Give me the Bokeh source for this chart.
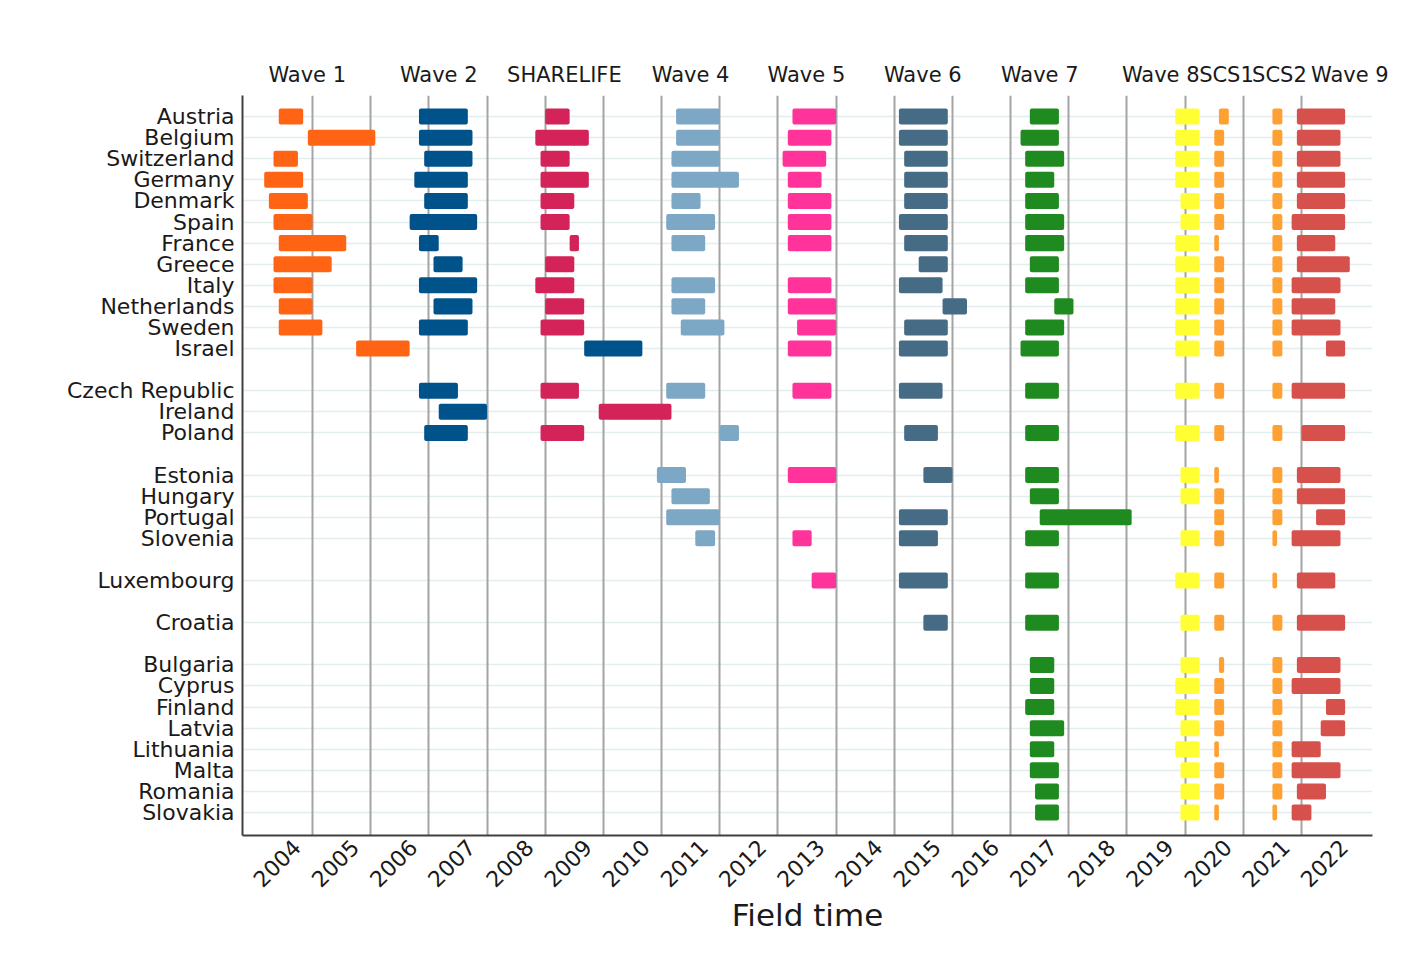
import math
from bokeh.plotting import figure
from bokeh.models import Range1d, FixedTicker, LinearAxis, ColumnDataSource
from bokeh.embed import file_html
from bokeh.resources import INLINE

N = None

COUNTRIES = ["Austria", "Belgium", "Switzerland", "Germany", "Denmark", "Spain",
             "France", "Greece", "Italy", "Netherlands", "Sweden", "Israel",
             "Czech Republic", "Ireland", "Poland",
             "Estonia", "Hungary", "Portugal", "Slovenia",
             "Luxembourg",
             "Croatia",
             "Bulgaria", "Cyprus", "Finland", "Latvia", "Lithuania", "Malta",
             "Romania", "Slovakia"]
GROUP_SIZES = [12, 3, 4, 1, 1, 8]

YEARS = list(range(2004, 2023))
GRID_YEARS = list(range(2004, 2022))

WAVE_NAMES = ["Wave 1", "Wave 2", "SHARELIFE", "Wave 4", "Wave 5", "Wave 6",
              "Wave 7", "Wave 8", "SCS1", "SCS2", "Wave 9"]
WAVE_LABEL_AT = [2003.91, 2006.17, 2008.33, 2010.5, 2012.49, 2014.49,
                 2016.5, 2018.58, 2019.71, 2020.62, 2021.83]
WAVE_COLORS = ["#FF6414", "#00538A", "#D32359", "#7CA7C5", "#FF3399", "#466C85",
               "#1F8A1F", "#FFFF33", "#FFA033", "#FFA033", "#D6504C"]

# field time start / end per country (same order as COUNTRIES), None = not fielded
W1_START = [2003.42, 2003.92, 2003.33, 2003.17, 2003.25, 2003.33, 2003.42, 2003.33,
            2003.33, 2003.42, 2003.42, 2004.75] + [N] * 17
W1_END = [2003.84, 2005.08, 2003.75, 2003.84, 2003.92, 2004.0, 2004.58, 2004.33,
          2004.0, 2004.0, 2004.17, 2005.67] + [N] * 17

W2_START = [2005.83, 2005.83, 2005.92, 2005.75, 2005.92, 2005.67, 2005.83, 2006.08,
            2005.83, 2006.08, 2005.83, 2008.67, 2005.83, 2006.17, 2005.92] + [N] * 14
W2_END = [2006.67, 2006.75, 2006.75, 2006.67, 2006.67, 2006.83, 2006.17, 2006.58,
          2006.83, 2006.75, 2006.67, 2009.67, 2006.5, 2007.0, 2006.67] + [N] * 14

SL_START = [2008.0, 2007.83, 2007.92, 2007.92, 2007.92, 2007.92, 2008.42, 2008.0,
            2007.83, 2008.0, 2007.92, N, 2007.92, 2008.92, 2007.92] + [N] * 14
SL_END = [2008.42, 2008.75, 2008.42, 2008.75, 2008.5, 2008.42, 2008.58, 2008.5,
          2008.5, 2008.67, 2008.67, N, 2008.58, 2010.17, 2008.67] + [N] * 14

W4_START = [2010.25, 2010.25, 2010.17, 2010.17, 2010.17, 2010.08, 2010.17, N,
            2010.17, 2010.17, 2010.33, N, 2010.08, N, 2011.0,
            2009.92, 2010.17, 2010.08, 2010.58] + [N] * 10
W4_END = [2011.0, 2011.0, 2011.0, 2011.33, 2010.67, 2010.92, 2010.75, N,
          2010.92, 2010.75, 2011.08, N, 2010.75, N, 2011.33,
          2010.42, 2010.83, 2011.0, 2010.92] + [N] * 10

W5_START = [2012.25, 2012.17, 2012.08, 2012.17, 2012.17, 2012.17, 2012.17, N,
            2012.17, 2012.17, 2012.33, 2012.17, 2012.25, N, N,
            2012.17, N, N, 2012.25, 2012.58] + [N] * 9
W5_END = [2013.0, 2012.92, 2012.83, 2012.75, 2012.92, 2012.92, 2012.92, N,
          2012.92, 2013.0, 2013.0, 2012.92, 2012.92, N, N,
          2013.0, N, N, 2012.58, 2013.0] + [N] * 9

W6_START = [2014.08, 2014.08, 2014.17, 2014.17, 2014.17, 2014.08, 2014.17, 2014.42,
            2014.08, 2014.83, 2014.17, 2014.08, 2014.08, N, 2014.17,
            2014.5, N, 2014.08, 2014.08, 2014.08, 2014.5] + [N] * 8
W6_END = [2014.92, 2014.92, 2014.92, 2014.92, 2014.92, 2014.92, 2014.92, 2014.92,
          2014.83, 2015.25, 2014.92, 2014.92, 2014.83, N, 2014.75,
          2015.0, N, 2014.92, 2014.75, 2014.92, 2014.92] + [N] * 8

W7_START = [2016.33, 2016.17, 2016.25, 2016.25, 2016.25, 2016.25, 2016.25, 2016.33,
            2016.25, 2016.75, 2016.25, 2016.17, 2016.25, N, 2016.25,
            2016.25, 2016.33, 2016.5, 2016.25, 2016.25, 2016.25,
            2016.33, 2016.33, 2016.25, 2016.33, 2016.33, 2016.33, 2016.42, 2016.42]
W7_END = [2016.83, 2016.83, 2016.92, 2016.75, 2016.83, 2016.92, 2016.92, 2016.83,
          2016.83, 2017.08, 2016.92, 2016.83, 2016.83, N, 2016.83,
          2016.83, 2016.83, 2018.08, 2016.83, 2016.83, 2016.83,
          2016.75, 2016.75, 2016.75, 2016.92, 2016.75, 2016.83, 2016.83, 2016.83]

W8_START = [2018.83, 2018.83, 2018.83, 2018.83, 2018.92, 2018.92, 2018.83, 2018.83,
            2018.83, 2018.83, 2018.83, 2018.83, 2018.83, N, 2018.83,
            2018.92, 2018.92, N, 2018.92, 2018.83, 2018.92,
            2018.92, 2018.83, 2018.83, 2018.92, 2018.83, 2018.92, 2018.92, 2018.92]
W8_END = [2019.25, 2019.25, 2019.25, 2019.25, 2019.25, 2019.25, 2019.25, 2019.25,
          2019.25, 2019.25, 2019.25, 2019.25, 2019.25, N, 2019.25,
          2019.25, 2019.25, N, 2019.25, 2019.25, 2019.25,
          2019.25, 2019.25, 2019.25, 2019.25, 2019.25, 2019.25, 2019.25, 2019.25]

SCS1_START = [2019.58, 2019.5, 2019.5, 2019.5, 2019.5, 2019.5, 2019.5, 2019.5,
              2019.5, 2019.5, 2019.5, 2019.5, 2019.5, N, 2019.5,
              2019.5, 2019.5, 2019.5, 2019.5, 2019.5, 2019.5,
              2019.58, 2019.5, 2019.5, 2019.5, 2019.5, 2019.5, 2019.5, 2019.5]
SCS1_END = [2019.75, 2019.67, 2019.67, 2019.67, 2019.67, 2019.67, 2019.58, 2019.67,
            2019.67, 2019.67, 2019.67, 2019.67, 2019.67, N, 2019.67,
            2019.58, 2019.67, 2019.67, 2019.67, 2019.67, 2019.67,
            2019.67, 2019.67, 2019.67, 2019.67, 2019.58, 2019.67, 2019.67, 2019.58]

SCS2_START = [2020.5, 2020.5, 2020.5, 2020.5, 2020.5, 2020.5, 2020.5, 2020.5,
              2020.5, 2020.5, 2020.5, 2020.5, 2020.5, N, 2020.5,
              2020.5, 2020.5, 2020.5, 2020.5, 2020.5, 2020.5,
              2020.5, 2020.5, 2020.5, 2020.5, 2020.5, 2020.5, 2020.5, 2020.5]
SCS2_END = [2020.67, 2020.67, 2020.67, 2020.67, 2020.67, 2020.67, 2020.67, 2020.67,
            2020.67, 2020.67, 2020.67, 2020.67, 2020.67, N, 2020.67,
            2020.67, 2020.67, 2020.67, 2020.58, 2020.58, 2020.67,
            2020.67, 2020.67, 2020.67, 2020.67, 2020.67, 2020.67, 2020.67, 2020.58]

W9_START = [2020.92, 2020.92, 2020.92, 2020.92, 2020.92, 2020.83, 2020.92, 2020.92,
            2020.83, 2020.83, 2020.83, 2021.42, 2020.83, N, 2021.0,
            2020.92, 2020.92, 2021.25, 2020.83, 2020.92, 2020.92,
            2020.92, 2020.83, 2021.42, 2021.33, 2020.83, 2020.83, 2020.92, 2020.83]
W9_END = [2021.75, 2021.67, 2021.67, 2021.75, 2021.75, 2021.75, 2021.58, 2021.83,
          2021.67, 2021.58, 2021.67, 2021.75, 2021.75, N, 2021.75,
          2021.67, 2021.75, 2021.75, 2021.67, 2021.58, 2021.75,
          2021.67, 2021.67, 2021.75, 2021.75, 2021.33, 2021.67, 2021.42, 2021.17]

WAVE_STARTS = [W1_START, W2_START, SL_START, W4_START, W5_START, W6_START,
               W7_START, W8_START, SCS1_START, SCS2_START, W9_START]
WAVE_ENDS = [W1_END, W2_END, SL_END, W4_END, W5_END, W6_END,
             W7_END, W8_END, SCS1_END, SCS2_END, W9_END]

# row index per country, with one blank row between groups
rows = []
r = 0
for g in GROUP_SIZES:
    for _ in range(g):
        rows.append(r)
        r += 1
    r += 1
last_row = rows[-1]

FONT = "DejaVu Sans"
TXT = "#1a1a1a"

p = figure(width=1400, height=968, output_backend="svg", toolbar_location=None,
           x_range=Range1d(2002.797, 2022.22),
           y_range=Range1d(last_row + 1.09, -1.0),
           min_border_left=242, min_border_right=28, min_border_top=95,
           min_border_bottom=133)
p.outline_line_color = None
p.background_fill_color = "white"
p.border_fill_color = "white"

for starts, ends, col in zip(WAVE_STARTS, WAVE_ENDS, WAVE_COLORS):
    ys, ls, rs = [], [], []
    for i, (s, e) in enumerate(zip(starts, ends)):
        if s is None or e is None:
            continue
        ys.append(rows[i]); ls.append(s); rs.append(e)
    src = ColumnDataSource(dict(y=ys, left=ls, right=rs))
    p.hbar(y="y", left="left", right="right", height=0.76, source=src,
           fill_color=col, line_color=None, border_radius=2)

# x axis (bottom): rotated year labels sit just left of each year line
LABEL_SHIFT = -0.27
tick_pos = [y + LABEL_SHIFT for y in YEARS]
xa = p.xaxis[0]
xa.ticker = FixedTicker(ticks=tick_pos)
xa.major_label_overrides = {t: str(y) for t, y in zip(tick_pos, YEARS)}
xa.major_label_orientation = math.pi / 4
xa.major_label_text_font = FONT
xa.major_label_text_font_size = "22px"
xa.major_label_text_color = TXT
xa.major_tick_line_color = None
xa.minor_tick_line_color = None
xa.major_tick_out = 0
xa.major_label_standoff = 8
xa.axis_line_color = "#404040"
xa.axis_line_width = 2
xa.axis_label = "Field time"
xa.axis_label_text_font = FONT
xa.axis_label_text_font_size = "31px"
xa.axis_label_text_font_style = "normal"
xa.axis_label_text_color = TXT
xa.axis_label_standoff = 0

p.xgrid.ticker = FixedTicker(ticks=GRID_YEARS)
p.xgrid.grid_line_color = "#a4a4a4"
p.xgrid.grid_line_width = 2

# y axis (left)
ya = p.yaxis[0]
ya.ticker = FixedTicker(ticks=rows)
ya.major_label_overrides = {rw: c for rw, c in zip(rows, COUNTRIES)}
ya.major_label_text_font = FONT
ya.major_label_text_font_size = "22px"
ya.major_label_text_color = TXT
ya.major_tick_line_color = None
ya.minor_tick_line_color = None
ya.major_tick_out = 0
ya.major_label_standoff = 8
ya.axis_line_color = "#404040"
ya.axis_line_width = 2

p.ygrid.grid_line_color = "#e4eded"
p.ygrid.grid_line_width = 1.5
p.ygrid.level = "image"

# top axis with wave names
top = LinearAxis(ticker=FixedTicker(ticks=WAVE_LABEL_AT),
                 major_label_overrides={x: n for x, n in zip(WAVE_LABEL_AT, WAVE_NAMES)},
                 axis_line_color=None, major_tick_line_color=None,
                 minor_tick_line_color=None, major_tick_out=0,
                 major_label_standoff=9,
                 major_label_text_font=FONT, major_label_text_font_size="21px",
                 major_label_text_color=TXT)
p.add_layout(top, "above")

open("out.html", "w").write(file_html(p, INLINE))
